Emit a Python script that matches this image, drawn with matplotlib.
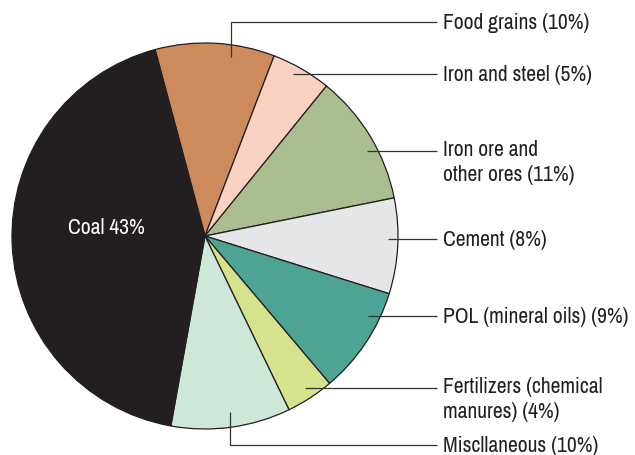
import matplotlib.pyplot as plt
from matplotlib import font_manager

categories = ["Food grains", "Iron and steel", "Iron ore and\nother ores", "Cement",
              "POL (mineral oils)", "Fertilizers (chemical\nmanures)", "Miscllaneous", "Coal"]
shares = [10, 5, 11, 8, 9, 4, 10, 43]
colors = ["#CD8A5D", "#FAD2C2", "#AABE91", "#E5E6E8", "#4DA394", "#D5E38C", "#CDE7D8", "#231F20"]
label_texts = ["Food grains (10%)", "Iron and steel (5%)", "Iron ore and\nother ores (11%)",
               "Cement (8%)", "POL (mineral oils) (9%)", "Fertilizers (chemical\nmanures) (4%)",
               "Miscllaneous (10%)"]

names = {f.name for f in font_manager.fontManager.ttflist}
fams = [f for f in ["Archivo Narrow", "Roboto Condensed", "Barlow Semi Condensed"] if f in names]
plt.rcParams["font.family"] = fams[:1] + ["DejaVu Sans"]

W, H = 635, 456
fig = plt.figure(figsize=(W / 100, H / 100), dpi=100)
ax = fig.add_axes([0, 0, 1, 1])

cx, cy, r = 205, H - 237, 193
ax.pie(shares, colors=colors, startangle=105, counterclock=False,
       center=(cx, cy), radius=r, frame=True,
       wedgeprops=dict(edgecolor="#231F20", linewidth=0.9))
ax.set_xlim(0, W)
ax.set_ylim(0, H)
ax.set_aspect("equal")
ax.axis("off")

# leader lines: start point, optional elbow y, label y (pixels from top)
leaders = [
    ((231, 58), 23, 23),
    ((293, 75), None, 75),
    ((367, 152), None, 152),
    ((388, 240), None, 240),
    ((368, 317), None, 317),
    ((305, 389), None, 389),
    ((230, 413), 446, 446),
]
line_end = 437
text_x = 443
fs = 15.5
for txt, (start, elbow, ty) in zip(label_texts, leaders):
    sx, sy = start
    if elbow is not None:
        xs = [sx, sx, line_end]
        ys = [H - sy, H - elbow, H - elbow]
    else:
        xs = [sx, line_end]
        ys = [H - sy, H - sy]
    ax.plot(xs, ys, color="#333333", lw=0.9, solid_capstyle="butt")
    if "\n" in txt:
        ax.text(text_x, H - ty + 12, txt, fontsize=fs, color="#231F20",
                ha="left", va="top", linespacing=1.3)
    else:
        ax.text(text_x, H - ty, txt, fontsize=fs, color="#231F20",
                ha="left", va="center")

ax.text(106, H - 228, "Coal 43%", fontsize=fs, color="white", ha="center", va="center")

fig.savefig("out.png", dpi=100)
